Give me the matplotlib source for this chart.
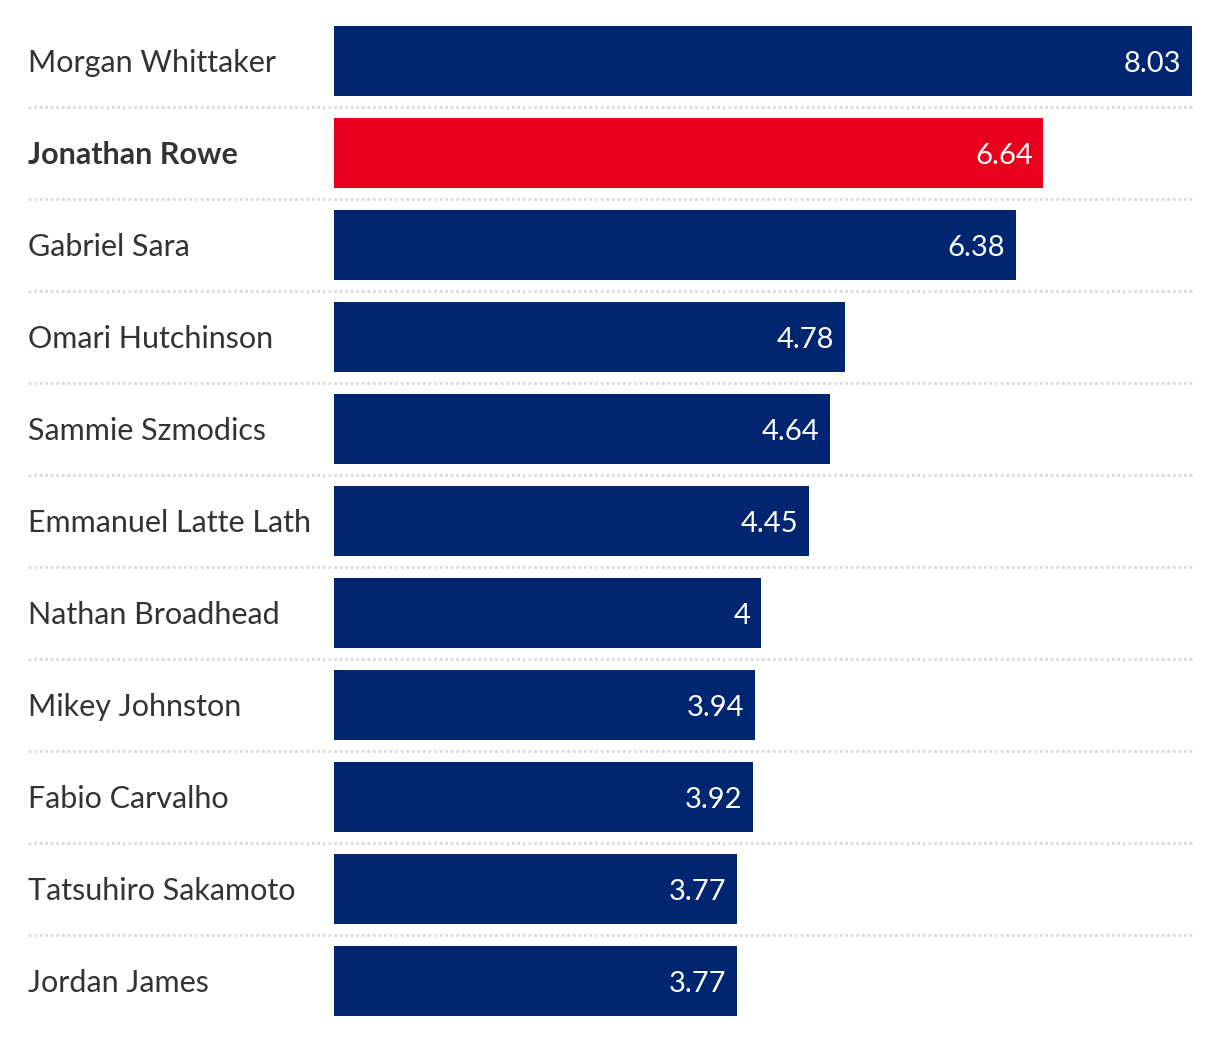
import matplotlib.pyplot as plt

players = ["Morgan Whittaker", "Jonathan Rowe", "Gabriel Sara", "Omari Hutchinson",
           "Sammie Szmodics", "Emmanuel Latte Lath", "Nathan Broadhead", "Mikey Johnston",
           "Fabio Carvalho", "Tatsuhiro Sakamoto", "Jordan James"]
values = [8.03, 6.64, 6.38, 4.78, 4.64, 4.45, 4.0, 3.94, 3.92, 3.77, 3.77]
value_labels = ["8.03", "6.64", "6.38", "4.78", "4.64", "4.45", "4", "3.94", "3.92", "3.77", "3.77"]
highlight = "Jonathan Rowe"

NAVY = "#002672"
RED = "#e8001c"
W, H = 1220, 1042

plt.rcParams['font.family'] = ['Lato', 'DejaVu Sans']

fig = plt.figure(figsize=(W / 100, H / 100), dpi=100)
# axes in pixel terms: x 334..1192, y 15..1027
ax = fig.add_axes([334 / W, 1 - 1027 / H, (1192 - 334) / W, (1027 - 15) / H])
ax.set_xlim(0, max(values))
ax.set_ylim(len(players) - 0.5, -0.5)
ax.axis("off")

colors = [RED if p == highlight else NAVY for p in players]
ax.barh(range(len(players)), values, height=70 / 92, color=colors, zorder=2)

for i, (p, v, lab) in enumerate(zip(players, values, value_labels)):
    ax.text(v - 0.1, i + 0.03, lab, ha="right", va="center", color="white", fontsize=21)
    ax.text(28 / W, 1 - (63 + 92 * i) / H, p, transform=fig.transFigure, ha="left", va="center",
            color="#333333", fontsize=22, fontweight="bold" if p == highlight else "normal")
    if i < len(players) - 1:
        ax.axhline(i + 0.5, xmin=(28 - 334) / 858, xmax=1.0, color="#d9d9d9", lw=2,
                   ls=(0, (1, 1)), clip_on=False, zorder=1)

fig.savefig("out.png", dpi=100, facecolor="white")
